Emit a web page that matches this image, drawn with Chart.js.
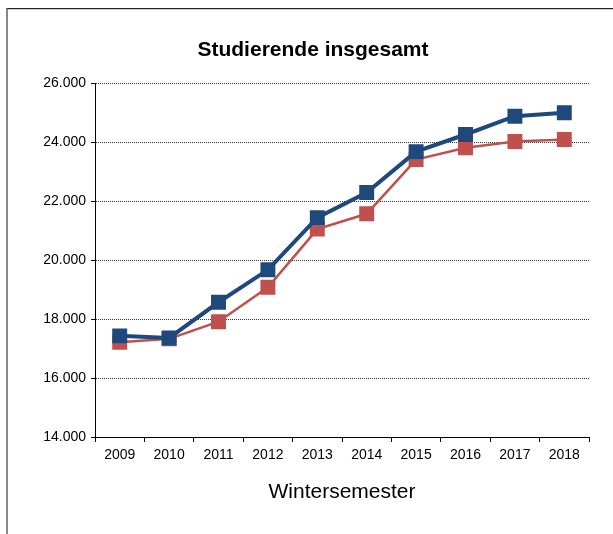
<!DOCTYPE html>
<html>
<head>
<meta charset="utf-8">
<script src="https://cdn.jsdelivr.net/npm/chart.js@4"></script>
<style>
  html, body { margin: 0; padding: 0; background: #fff; overflow: hidden; }
  #wrap { position: relative; width: 613px; height: 534px; }
  #frame { position: absolute; left: 6px; top: 8px; width: 700px; height: 700px;
           border-top: 1px solid #222; border-left: 2px solid #888; box-shadow: inset 0 1px 0 #ccc; }
  canvas { position: absolute; left: 0; top: 0; }
</style>
</head>
<body>
<div id="wrap">
  <div id="frame"></div>
  <canvas id="c" width="613" height="534"></canvas>
</div>
<script>
const chartTitle = 'Studierende insgesamt';
const xAxisTitle = 'Wintersemester';
const years = ['2009','2010','2011','2012','2013','2014','2015','2016','2017','2018'];
const seriesBlue = [17430, 17360, 18570, 19670, 21440, 22290, 23680, 24260, 24880, 25000];
const seriesRed  = [17210, 17330, 17910, 19080, 21050, 21570, 23410, 23810, 24020, 24090];
const yMin = 14000, yMax = 26000, yStep = 2000;

const fmt = v => String(v).replace(/\B(?=(\d{3})+(?!\d))/g, '.');
const FONT = "'Liberation Sans', Arial, sans-serif";

new Chart(document.getElementById('c'), {
  type: 'line',
  data: {
    labels: years,
    datasets: [
      { label: 'Reihe 1', data: seriesBlue, borderColor: '#1F497D', backgroundColor: '#1F497D',
        borderWidth: 4, pointStyle: 'rect', pointRadius: 9.5, pointBorderWidth: 1.5,
        pointBorderColor: '#1F497D', pointBackgroundColor: '#1F497D', tension: 0 },
      { label: 'Reihe 2', data: seriesRed, borderColor: '#C0504D', backgroundColor: '#C0504D',
        borderWidth: 2.5, pointStyle: 'rect', pointRadius: 9.5, pointBorderWidth: 1.5,
        pointBorderColor: '#C0504D', pointBackgroundColor: '#C0504D', tension: 0 }
    ]
  },
  options: {
    responsive: false,
    animation: false,
    layout: { padding: { left: 13, right: 0, top: 0, bottom: 29 } },
    plugins: {
      legend: { display: false },
      tooltip: { enabled: false },
      title: { display: true, text: chartTitle, color: '#000',
               font: { family: FONT, size: 21, weight: 'bold' },
               padding: { top: 38, bottom: 20 } }
    },
    scales: {
      x: {
        offset: true,
        grid: { display: true, offset: true, drawOnChartArea: false, drawTicks: true,
                tickLength: 5, tickColor: '#000', tickWidth: 1 },
        border: { display: true, color: '#000', width: 1 },
        ticks: { color: '#000', font: { family: FONT, size: 14 }, padding: 5, maxRotation: 0 },
        title: { display: true, text: xAxisTitle, color: '#000',
                 font: { family: FONT, size: 21 }, padding: { top: 11, bottom: 0 } }
      },
      y: {
        min: yMin, max: yMax,
        afterFit: s => { s.width = 82; },
        grid: { color: '#333', lineWidth: 1, tickLength: 4, tickColor: '#000', tickWidth: 1 },
        border: { display: true, color: '#000', width: 1, dash: [1, 1] },
        ticks: { stepSize: yStep, color: '#000', font: { family: FONT, size: 14 }, padding: 5,
                 callback: v => fmt(v) }
      },
      y2: {
        position: 'right', display: true,
        afterFit: s => { s.width = 24; },
        grid: { display: false }, border: { display: false },
        ticks: { display: false }
      }
    }
  }
});
</script>
</body>
</html>
